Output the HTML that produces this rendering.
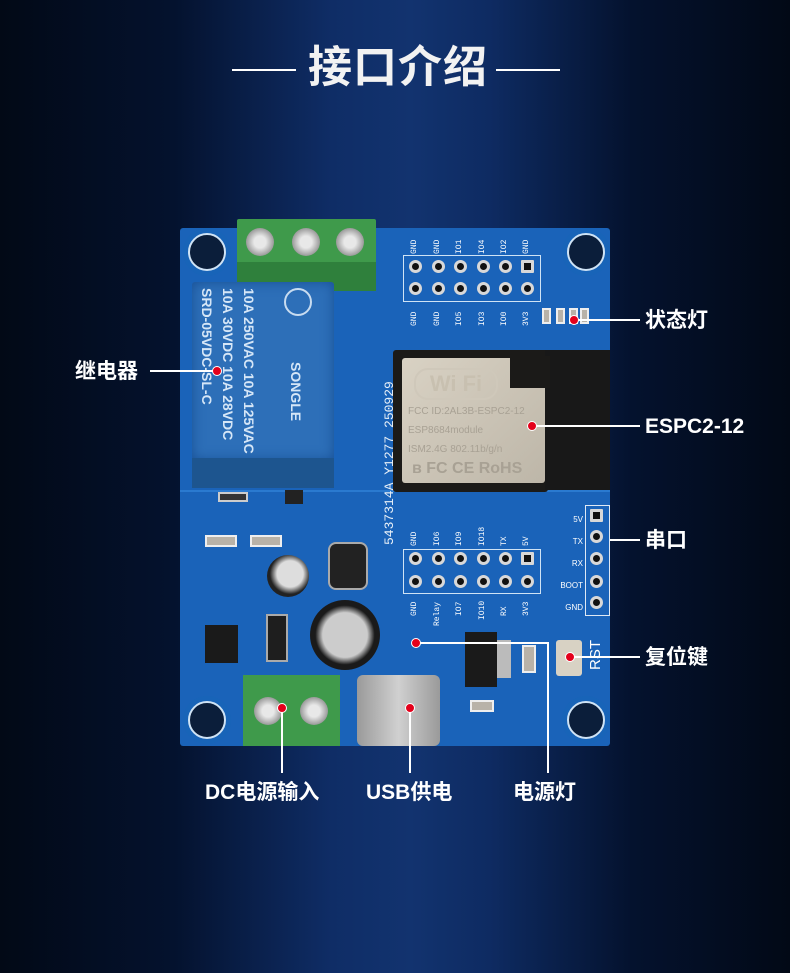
<!DOCTYPE html>
<html><head><meta charset="utf-8"><style>
*{margin:0;padding:0;box-sizing:border-box}
body{width:790px;height:973px;overflow:hidden;position:relative;font-family:"Liberation Sans","Noto Sans CJK SC",sans-serif;
background:linear-gradient(90deg,#020916 0%,#04122e 22%,#0f2d66 42%,#12336f 52%,#0e2b62 62%,#04122e 80%,#020916 100%);}
.a{position:absolute}
.lbl{position:absolute;color:#fff;font-size:21px;font-weight:bold;line-height:1}
.ln{position:absolute;background:#fff}
.dot{position:absolute;width:10px;height:10px;border-radius:50%;background:#e4001b;border:1px solid #fff}
.hole{position:absolute;width:38px;height:38px;border-radius:50%;border:2px solid #cfe3f5;background:#0b1e3a;box-shadow:0 0 0 5px #1864b8}
.pin{position:absolute;width:13px;height:13px;border-radius:50%;background:#111;border:3px solid #d8d8d8}
.pl{position:absolute;color:#fff;font-size:8px;font-family:"Liberation Mono",monospace;transform:rotate(-90deg);transform-origin:left top}
.smd{position:absolute;background:#b8b2a8;border:2px solid #eee}
.screw{position:absolute;width:28px;height:28px;border-radius:50%;background:radial-gradient(circle,#e8e8e8 30%,#9a9a9a 70%,#1b3d1b 100%)}
</style></head><body>
<div class="ln" style="left:232px;top:69px;width:64px;height:2px"></div>
<div class="ln" style="left:496px;top:69px;width:64px;height:2px"></div>
<div class="a" style="left:300px;top:42px;width:196px;text-align:center;color:#f2f2f2;font-size:44px;font-weight:bold;letter-spacing:1px;line-height:52px">接口介绍</div>

<!-- board -->
<div class="a" style="left:180px;top:228px;width:430px;height:518px;background:#1a63b9;border-radius:3px"></div>
<div class="a" style="left:180px;top:490px;width:430px;height:2px;background:#2a7ad0"></div>
<div class="hole" style="left:188px;top:233px"></div>
<div class="hole" style="left:567px;top:233px"></div>
<div class="hole" style="left:188px;top:701px"></div>
<div class="hole" style="left:567px;top:701px"></div>
<!-- top terminal -->
<div class="a" style="left:237px;top:219px;width:139px;height:72px;background:#3f9a4b;border-radius:2px"></div>
<div class="a" style="left:237px;top:262px;width:139px;height:29px;background:#2f803c"></div>
<div class="screw" style="left:246px;top:228px"></div>
<div class="screw" style="left:292px;top:228px"></div>
<div class="screw" style="left:336px;top:228px"></div>
<!-- relay -->
<div class="a" style="left:192px;top:282px;width:142px;height:178px;background:#2d6fb8;border-radius:3px;box-shadow:inset 0 0 12px #174f94;overflow:hidden">
<div class="a" style="left:4px;top:6px;color:#d5e6f7;font-size:14px;font-weight:bold;writing-mode:vertical-lr;line-height:21px;white-space:nowrap">SRD-05VDC-SL-C<br>10A 30VDC 10A 28VDC<br>10A 250VAC 10A 125VAC</div>
<div class="a" style="left:92px;top:6px;width:28px;height:28px;border:2px solid #c8dcf0;border-radius:50%"></div>
<div class="a" style="left:96px;top:80px;color:#d5e6f7;font-size:14px;font-weight:bold;writing-mode:vertical-lr">SONGLE</div>
</div>
<div class="a" style="left:192px;top:458px;width:142px;height:30px;background:#1d558f"></div>
<!-- header top -->
<div class="a" style="left:403px;top:255px;width:138px;height:47px;border:1px solid #cfe3f5"></div>
<div class="pin" style="left:409px;top:260px"></div><div class="pin" style="left:432px;top:260px"></div><div class="pin" style="left:454px;top:260px"></div><div class="pin" style="left:477px;top:260px"></div><div class="pin" style="left:499px;top:260px"></div><div class="pin" style="left:521px;top:260px;border-radius:1px"></div>
<div class="pin" style="left:409px;top:282px"></div><div class="pin" style="left:432px;top:282px"></div><div class="pin" style="left:454px;top:282px"></div><div class="pin" style="left:477px;top:282px"></div><div class="pin" style="left:499px;top:282px"></div><div class="pin" style="left:521px;top:282px"></div>
<div class="pl" style="left:410px;top:254px">GND</div><div class="pl" style="left:433px;top:254px">GND</div><div class="pl" style="left:455px;top:254px">IO1</div><div class="pl" style="left:478px;top:254px">IO4</div><div class="pl" style="left:500px;top:254px">IO2</div><div class="pl" style="left:522px;top:254px">GND</div>
<div class="pl" style="left:410px;top:326px">GND</div><div class="pl" style="left:433px;top:326px">GND</div><div class="pl" style="left:455px;top:326px">IO5</div><div class="pl" style="left:478px;top:326px">IO3</div><div class="pl" style="left:500px;top:326px">IO0</div><div class="pl" style="left:522px;top:326px">3V3</div>
<div class="smd" style="left:542px;top:308px;width:9px;height:16px"></div><div class="smd" style="left:556px;top:308px;width:9px;height:16px"></div><div class="smd" style="left:569px;top:308px;width:9px;height:16px"></div><div class="smd" style="left:580px;top:308px;width:9px;height:16px"></div>
<div class="a" style="left:382px;top:305px;color:#e8f0f8;font-size:13px;font-family:'Liberation Mono',monospace;writing-mode:vertical-rl;transform:rotate(180deg);height:240px">5437314A_Y1277_250929</div>
<!-- wifi module -->
<div class="a" style="left:393px;top:350px;width:155px;height:142px;background:#1b1a18;border-radius:3px"></div>
<div class="a" style="left:545px;top:350px;width:65px;height:140px;background:#181818"></div>
<div class="a" style="left:402px;top:358px;width:143px;height:125px;background:linear-gradient(135deg,#d9d2c4,#bdb6a8);border-radius:3px"></div>
<div class="a" style="left:510px;top:356px;width:40px;height:32px;background:#1b1a18"></div>
<div class="a" style="left:414px;top:368px;width:84px;height:32px;border:2px solid #cfc8ba;border-radius:14px;color:#c8c0b0;font-size:22px;font-weight:bold;text-align:center;line-height:28px">Wi Fi</div>
<div class="a" style="left:408px;top:402px;color:#a8a194;font-size:10px;line-height:19px;width:140px;white-space:nowrap">FCC ID:2AL3B-ESPC2-12<br>ESP8684module<br>ISM2.4G 802.11b/g/n</div>
<div class="a" style="left:412px;top:460px;color:#a8a194;font-size:16px;font-weight:bold">ʙ FC CE RoHS</div>
<!-- lower -->
<div class="a" style="left:218px;top:492px;width:30px;height:10px;background:#333;border:2px solid #ccc"></div>
<div class="a" style="left:285px;top:490px;width:18px;height:14px;background:#222"></div>
<div class="smd" style="left:205px;top:535px;width:32px;height:12px"></div><div class="smd" style="left:250px;top:535px;width:32px;height:12px"></div>
<div class="a" style="left:267px;top:555px;width:42px;height:42px;border-radius:50%;background:radial-gradient(circle at 55% 45%,#ddd 40%,#222 62%)"></div>
<div class="a" style="left:328px;top:542px;width:40px;height:48px;background:#222;border-radius:8px;border:2px solid #aaa"></div>
<div class="a" style="left:310px;top:600px;width:70px;height:70px;border-radius:50%;background:radial-gradient(circle,#ccc 45%,#1a1a1a 60%)"></div>
<div class="a" style="left:205px;top:625px;width:33px;height:38px;background:#1a1a1a"></div>
<div class="a" style="left:266px;top:614px;width:22px;height:48px;background:#1e1e1e;border:2px solid #aaa"></div>
<!-- header 2 -->
<div class="a" style="left:403px;top:549px;width:138px;height:45px;border:1px solid #cfe3f5"></div>
<div class="pin" style="left:409px;top:552px"></div><div class="pin" style="left:432px;top:552px"></div><div class="pin" style="left:454px;top:552px"></div><div class="pin" style="left:477px;top:552px"></div><div class="pin" style="left:499px;top:552px"></div><div class="pin" style="left:521px;top:552px;border-radius:1px"></div>
<div class="pin" style="left:409px;top:575px"></div><div class="pin" style="left:432px;top:575px"></div><div class="pin" style="left:454px;top:575px"></div><div class="pin" style="left:477px;top:575px"></div><div class="pin" style="left:499px;top:575px"></div><div class="pin" style="left:521px;top:575px"></div>
<div class="pl" style="left:410px;top:546px">GND</div><div class="pl" style="left:433px;top:546px">IO6</div><div class="pl" style="left:455px;top:546px">IO9</div><div class="pl" style="left:478px;top:546px">IO18</div><div class="pl" style="left:500px;top:546px">TX</div><div class="pl" style="left:522px;top:546px">5V</div>
<div class="pl" style="left:410px;top:616px">GND</div><div class="pl" style="left:433px;top:626px">Relay</div><div class="pl" style="left:455px;top:616px">IO7</div><div class="pl" style="left:478px;top:620px">IO10</div><div class="pl" style="left:500px;top:616px">RX</div><div class="pl" style="left:522px;top:616px">3V3</div>
<!-- serial -->
<div class="a" style="left:585px;top:505px;width:25px;height:111px;border:1px solid #dfe9f5"></div>
<div class="pin" style="left:590px;top:509px;border-radius:1px"></div><div class="pin" style="left:590px;top:530px"></div><div class="pin" style="left:590px;top:552px"></div><div class="pin" style="left:590px;top:575px"></div><div class="pin" style="left:590px;top:596px"></div>
<div class="a" style="left:548px;top:509px;width:35px;text-align:right;color:#fff;font-size:8px;line-height:22px">5V<br>TX<br>RX<br>BOOT<br>GND</div>
<!-- regulator, rst -->
<div class="a" style="left:465px;top:632px;width:32px;height:55px;background:#1a1a1a"></div>
<div class="a" style="left:497px;top:640px;width:14px;height:38px;background:#bbb"></div>
<div class="smd" style="left:522px;top:645px;width:14px;height:28px"></div>
<div class="smd" style="left:470px;top:700px;width:24px;height:12px"></div>
<div class="a" style="left:556px;top:640px;width:26px;height:36px;background:#d8d2c4;border-radius:3px"></div>
<div class="a" style="left:587px;top:640px;color:#fff;font-size:15px;writing-mode:vertical-rl;transform:rotate(180deg)">RST</div>
<!-- bottom terminal & usb -->
<div class="a" style="left:243px;top:675px;width:97px;height:71px;background:#3f9a4b"></div>
<div class="screw" style="left:254px;top:697px"></div><div class="screw" style="left:300px;top:697px"></div>
<div class="a" style="left:357px;top:675px;width:83px;height:71px;background:linear-gradient(90deg,#9a9a9a,#d0d0d0,#9a9a9a);border-radius:6px"></div>

<!-- callouts -->
<div class="ln" style="left:150px;top:370px;width:67px;height:2px"></div><div class="dot" style="left:212px;top:366px"></div>
<div class="lbl" style="left:75px;top:361px">继电器</div>
<div class="ln" style="left:574px;top:319px;width:66px;height:2px"></div><div class="dot" style="left:569px;top:315px"></div>
<div class="lbl" style="left:645px;top:310px">状态灯</div>
<div class="ln" style="left:532px;top:425px;width:108px;height:2px"></div><div class="dot" style="left:527px;top:421px"></div>
<div class="lbl" style="left:645px;top:416px">ESPC2-12</div>
<div class="ln" style="left:610px;top:539px;width:30px;height:2px"></div>
<div class="lbl" style="left:645px;top:530px">串口</div>
<div class="ln" style="left:570px;top:656px;width:70px;height:2px"></div><div class="dot" style="left:565px;top:652px"></div>
<div class="lbl" style="left:645px;top:647px">复位键</div>
<div class="ln" style="left:281px;top:708px;width:2px;height:65px"></div><div class="dot" style="left:277px;top:703px"></div>
<div class="lbl" style="left:205px;top:782px">DC电源输入</div>
<div class="ln" style="left:409px;top:708px;width:2px;height:65px"></div><div class="dot" style="left:405px;top:703px"></div>
<div class="lbl" style="left:366px;top:782px">USB供电</div>
<div class="ln" style="left:416px;top:642px;width:133px;height:2px"></div><div class="ln" style="left:547px;top:642px;width:2px;height:131px"></div><div class="dot" style="left:411px;top:638px"></div>
<div class="lbl" style="left:513px;top:782px">电源灯</div>
</body></html>
